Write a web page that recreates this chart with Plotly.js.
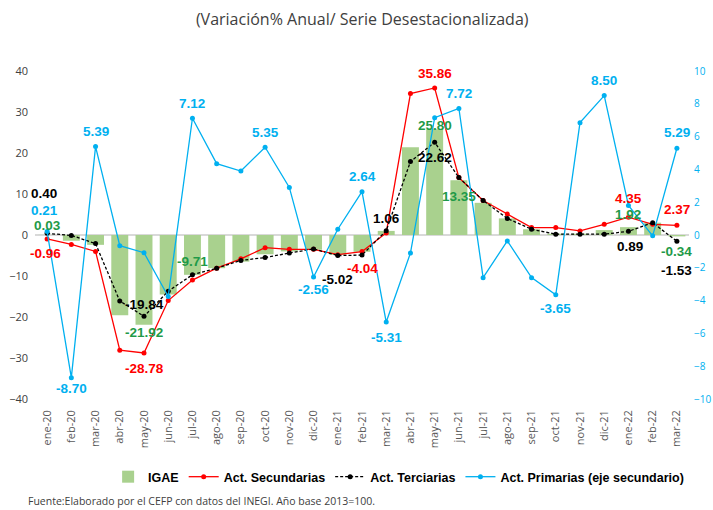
<!DOCTYPE html>
<html>
<head>
<meta charset="utf-8">
<script src="https://cdn.plot.ly/plotly-3.0.1.min.js"></script>
<style>html,body{margin:0;padding:0;background:#fff;}#chart{width:713px;height:510px;}</style>
</head>
<body>
<div id="chart"></div>
<script>
// ---- DATA ----
var months = ['ene-20','feb-20','mar-20','abr-20','may-20','jun-20','jul-20','ago-20','sep-20','oct-20','nov-20','dic-20',
              'ene-21','feb-21','mar-21','abr-21','may-21','jun-21','jul-21','ago-21','sep-21','oct-21','nov-21','dic-21',
              'ene-22','feb-22','mar-22'];
var igae = [0.03,-1.4,-2.4,-19.6,-21.92,-14.5,-9.71,-8.1,-6.5,-4.7,-4.0,-3.6,
            -4.8,-4.1,1.0,21.4,25.80,13.35,7.85,4.05,1.4,0.3,0.3,1.2,
            1.92,3.0,-0.34];
var secundarias = [-0.96,-2.3,-4.0,-28.1,-28.78,-16.0,-11.0,-8.1,-5.8,-3.1,-3.5,-3.5,
                   -4.8,-4.04,0.5,34.5,35.86,14.0,8.4,5.1,1.8,1.8,1.0,2.6,
                   4.35,2.6,2.37];
var terciarias = [0.40,-0.1,-2.1,-16.1,-19.84,-13.7,-9.7,-8.1,-6.2,-5.5,-4.4,-3.4,
                  -5.02,-4.9,1.06,17.9,22.62,14.0,8.4,4.05,1.4,0.2,0.2,0.2,
                  0.89,3.0,-1.53];
var primarias = [0.21,-8.70,5.39,-0.65,-1.08,-3.75,7.12,4.35,3.9,5.35,2.9,-2.56,
                 0.35,2.64,-5.31,-1.1,7.15,7.72,-2.6,-0.36,-2.6,-3.65,6.85,8.50,
                 1.8,-0.05,5.29];
var leftTicks = [-40,-30,-20,-10,0,10,20,30,40];
var rightTicks = [-10,-8,-6,-4,-2,0,2,4,6,8,10];

// ---- STYLE ----
var cGreen = '#a9d18e', cGreenTxt = '#1f9a48', cRed = '#ff0000', cBlack = '#000000', cBlue = '#00b0f0';
var labelFont = 'Liberation Sans, Arial, sans-serif';
var baseFont = 'Open Sans, Liberation Sans, sans-serif';

// label placement: [index, yshift(px), xshift(px)]
var lblIgae = [[0,9,0],[4,-8,0],[6,13,0],[16,4,0],[17,-16,0],[24,13,0],[26,-15,0]];
var lblSec = [[0,-15,-2],[4,-15,0],[13,-17,0],[16,14,0],[24,19,0],[26,16,0]];
var lblTer = [[0,40,-3],[4,12,0],[12,-24,0],[14,12,0],[16,-15,0],[24,-15,2],[26,-29,0]];
var lblPri = [[0,21,-3],[1,-11,0],[2,15,0],[6,15,0],[9,15,0],[11,-13,0],[13,15,0],[14,-15,0],
              [17,15,0],[21,-14,0],[23,15,0],[26,16,0]];

var traces = [
  {type:'bar', name:'IGAE', x:months, y:igae, marker:{color:cGreen}, yaxis:'y'},
  {type:'scatter', mode:'lines+markers', name:'Act. Secundarias', x:months, y:secundarias,
   line:{color:cRed, width:1.3}, marker:{color:cRed, size:5}, yaxis:'y'},
  {type:'scatter', mode:'lines+markers', name:'Act. Terciarias', x:months, y:terciarias,
   line:{color:cBlack, width:1.3, dash:'3px,2px'}, marker:{color:cBlack, size:5}, yaxis:'y'},
  {type:'scatter', mode:'lines+markers', name:'Act. Primarias (eje secundario)', x:months, y:primarias,
   line:{color:cBlue, width:1.3}, marker:{color:cBlue, size:5}, yaxis:'y2'}
];

var annotations = [];
function addLabels(list, series, color, yref) {
  list.forEach(function(l){
    var i = l[0];
    annotations.push({x:months[i], y:series[i], xref:'x', yref:yref, text:series[i].toFixed(2),
      showarrow:false, yshift:l[1], xshift:l[2], xanchor:'center', yanchor:'middle',
      font:{family:labelFont, size:13.5, color:color, weight:'bold'}});
  });
}
addLabels(lblIgae, igae, cGreenTxt, 'y');
addLabels(lblSec, secundarias, cRed, 'y');
addLabels(lblTer, terciarias, cBlack, 'y');
addLabels(lblPri, primarias, cBlue, 'y2');

annotations.push({xref:'paper', yref:'paper', x:-0.014, y:-0.311, xanchor:'left', yanchor:'middle',
  showarrow:false, text:'Fuente:Elaborado por el CEFP con datos del INEGI. Año base 2013=100.',
  font:{family:baseFont, size:10.5, color:'#404040'}});

var layout = {
  width:713, height:510,
  margin:{l:35, r:24, t:71, b:111, pad:0},
  paper_bgcolor:'#ffffff', plot_bgcolor:'#ffffff',
  font:{family:baseFont, color:'#404040'},
  title:{text:'(Variación% Anual/ Serie Desestacionalizada)', x:0.508, xanchor:'center', xref:'container',
         y:0.961, yanchor:'middle', yref:'container', font:{family:baseFont, size:16, color:'#404040'}},
  bargap:0.3,
  showlegend:true,
  legend:{orientation:'h', x:0.556, xanchor:'center', y:-0.238, yanchor:'middle',
          font:{family:labelFont, size:12.5, color:'#000000', weight:'bold'}, traceorder:'normal'},
  xaxis:{type:'category', range:[-0.5,26.5], tickangle:-90, showgrid:false, showline:false, zeroline:false,
         ticks:'', ticklabelstandoff:8, tickfont:{family:baseFont, size:11, color:'#595959'}, fixedrange:true},
  yaxis:{range:[-40,40], tickvals:leftTicks, showgrid:false, zeroline:true, zerolinecolor:'#d9d9d9', zerolinewidth:1.5,
         showline:false, ticks:'', ticklabelstandoff:6, tickfont:{family:baseFont, size:11, color:'#404040'}},
  yaxis2:{range:[-10,10], tickvals:rightTicks, overlaying:'y', side:'right', showgrid:false, zeroline:false,
          showline:false, ticks:'', ticklabelstandoff:4, tickfont:{family:baseFont, size:10, color:cBlue}},
  annotations:annotations
};

Plotly.newPlot('chart', traces, layout, {displayModeBar:false, staticPlot:true});
</script>
</body>
</html>
